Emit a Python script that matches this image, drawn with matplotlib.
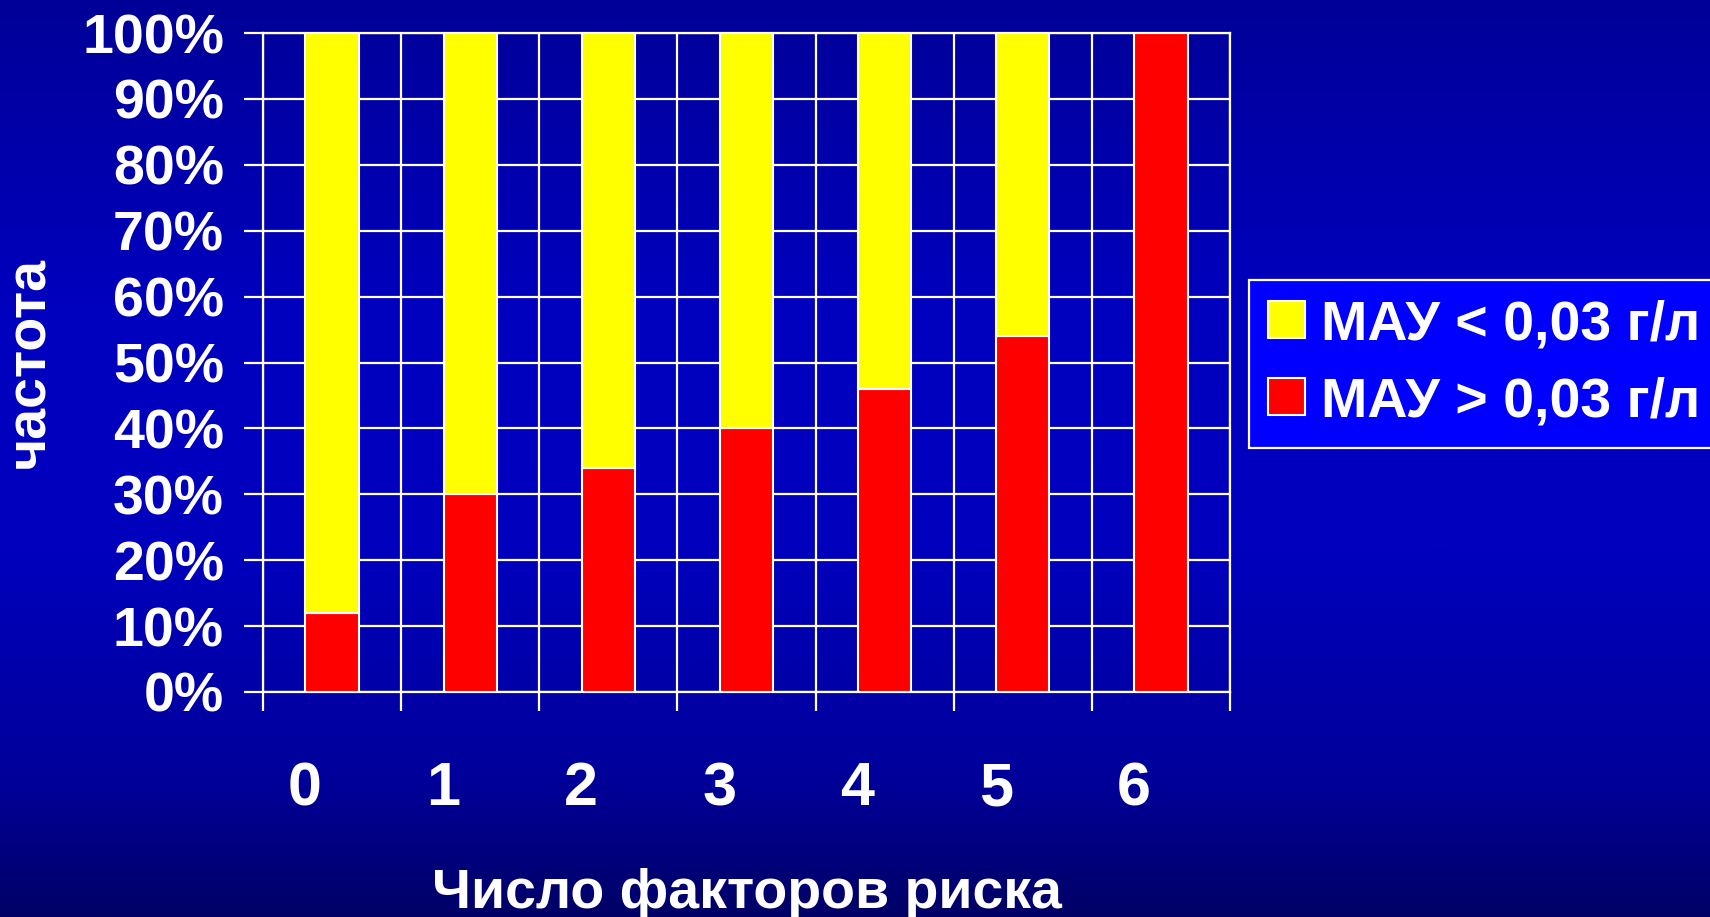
import matplotlib
matplotlib.use("Agg")
import matplotlib.pyplot as plt
from matplotlib.colors import LinearSegmentedColormap
from matplotlib.patches import Patch
import matplotlib.transforms as mtransforms
import numpy as np

plt.rcParams['font.family'] = ['Liberation Sans', 'DejaVu Sans']
plt.rcParams['font.weight'] = 'bold'
plt.rcParams['axes.labelweight'] = 'bold'

categories = ['0', '1', '2', '3', '4', '5', '6']
high_mau = [12, 30, 34, 40, 46, 54, 100]   # МАУ > 0,03 г/л, %
low_mau = [100 - v for v in high_mau]       # МАУ < 0,03 г/л, %
y_ticks = [0, 10, 20, 30, 40, 50, 60, 70, 80, 90, 100]

fig = plt.figure(figsize=(17.1, 9.17), dpi=100)

# slide background: vertical blue gradient
bg = fig.add_axes([0, 0, 1, 1], zorder=0)
bg_cmap = LinearSegmentedColormap.from_list('slide', [
    (0.0, '#000098'), (0.35, '#0000c0'), (0.6, '#0000bd'),
    (0.85, '#00009a'), (1.0, '#000066')])
bg.imshow(np.linspace(0, 1, 512).reshape(-1, 1), aspect='auto', cmap=bg_cmap,
          extent=[0, 1, 1, 0])
bg.set_axis_off()

ax = fig.add_axes([263 / 1710, 1 - 692 / 917, (1230 - 263) / 1710, (692 - 33) / 917], zorder=1)
ax.patch.set_alpha(0)

x = np.arange(len(categories))
width = 0.386
ax.bar(x, high_mau, width, color='#ff0000', edgecolor='white', linewidth=1.5, zorder=3)
ax.bar(x, low_mau, width, bottom=high_mau, color='#ffff00', edgecolor='white', linewidth=1.5, zorder=3)

ax.set_xlim(-0.5, len(categories) - 0.5)
ax.set_ylim(0, 100)

# ticks sit on the category boundaries, labels are placed separately
ax.set_xticks(np.arange(-0.5, len(categories), 1.0))
ax.set_xticklabels([])
ax.set_yticks(y_ticks)
ax.set_yticklabels([f'{t}%' for t in y_ticks])

ax.grid(True, color='white', linewidth=1.6, zorder=1)
ax.set_axisbelow(True)
for side in ax.spines.values():
    side.set_color('white')
    side.set_linewidth(1.6)

ax.tick_params(axis='both', colors='white', length=14, width=1.6, direction='out')
ax.tick_params(axis='y', labelsize=40, pad=14)

label_tr = mtransforms.blended_transform_factory(ax.transData, ax.transAxes)
for i, name in enumerate(categories):
    ax.text(i - 0.196, -0.148, name, transform=label_tr, ha='center', va='center',
            fontsize=44, color='white', fontweight='bold')

ax.set_xlabel('Число факторов риска', fontsize=40, color='white', fontweight='bold', va='top')
ax.xaxis.set_label_coords(0.5, -0.267)
ax.set_ylabel('частота', fontsize=40, color='white', fontweight='bold', va='center')
ax.yaxis.set_label_coords(-0.241, 0.5)

handles = [Patch(facecolor='#ffff00', edgecolor='white', linewidth=1.5),
           Patch(facecolor='#ff0000', edgecolor='white', linewidth=1.5)]
leg = fig.legend(handles, ['МАУ < 0,03 г/л', 'МАУ > 0,03 г/л'],
                 loc='upper left', bbox_to_anchor=(1249 / 1710, 1 - 280 / 917),
                 fontsize=40, frameon=True, fancybox=False,
                 handlelength=0.65, handleheight=0.65, handletextpad=0.3,
                 borderpad=0.35, labelspacing=0.45, borderaxespad=0)
leg.get_frame().set_facecolor('#0000ff')
leg.get_frame().set_edgecolor('white')
leg.get_frame().set_linewidth(1.6)
leg.get_frame().set_alpha(1)
for t in leg.get_texts():
    t.set_color('white')
leg.set_zorder(2)

fig.savefig('out.png', dpi=100)
